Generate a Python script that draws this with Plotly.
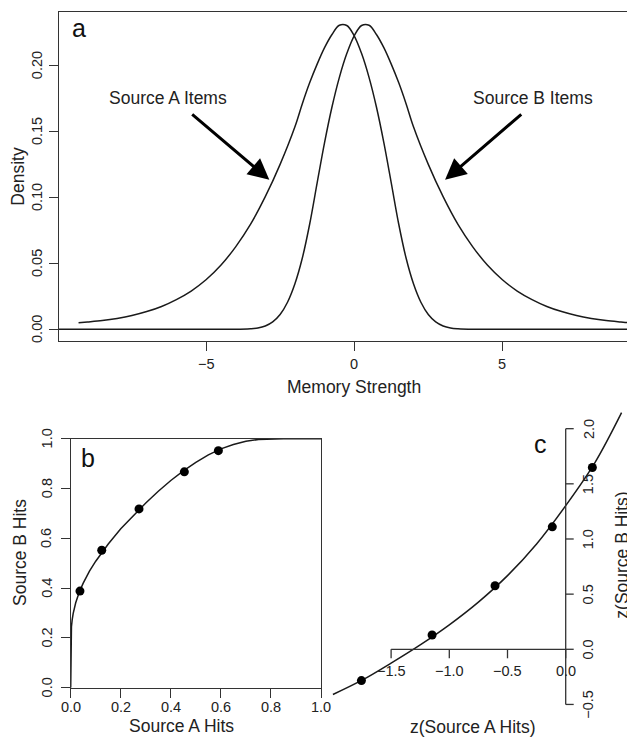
import plotly.graph_objects as go

# The page adds an 8 px body margin; lay the figure out in reference-pixel
# coordinates and compensate for that offset.
OFF = 8
W, H = 635 - OFF, 737 - OFF
FONT = "Liberation Sans, Arial, Helvetica, sans-serif"
INK = "#1a1a1a"
AXC = "#333333"

# ---------------- Panel a: densities ----------------
dens_x_A = [-9.3, -9.0, -8.5, -8.0, -7.5, -7.0, -6.5, -6.0, -5.5, -5.0, -4.5, -4.0, -3.5,
            -3.0, -2.5, -2.0, -1.75, -1.5, -1.25, -1.0, -0.75, -0.5, -0.25, 0.0, 0.25, 0.5,
            0.75, 1.0, 1.25, 1.5, 1.75, 2.0, 2.25, 2.5, 2.75, 3.0, 3.25, 3.5, 4.0, 5.0, 6.5,
            8.0, 9.26]
dens_A = [0.0049, 0.0055, 0.0066, 0.0082, 0.0104, 0.0134, 0.0173, 0.0225, 0.0290, 0.0375,
          0.0485, 0.0625, 0.0795, 0.1005, 0.1250, 0.1535, 0.1710, 0.1870, 0.2010, 0.2135,
          0.2235, 0.2305, 0.2303, 0.2225, 0.2090, 0.1910, 0.1685, 0.1415, 0.1110, 0.0800,
          0.0540, 0.0345, 0.0205, 0.0112, 0.0056, 0.0025, 0.0010, 0.0004, 0.0, 0.0, 0.0,
          0.0, 0.0]

dens_x_B = [-10.5, -8.0, -6.5, -5.0, -4.0, -3.5, -3.25, -3.0, -2.75, -2.5, -2.25, -2.0,
            -1.75, -1.5, -1.25, -1.0, -0.75, -0.5, -0.25, 0.0, 0.25, 0.5, 0.75, 1.0, 1.25,
            1.5, 1.75, 2.0, 2.5, 3.0, 3.5, 4.0, 4.5, 5.0, 5.5, 6.0, 6.5, 7.0, 7.5, 8.0, 8.5,
            9.0, 9.3, 9.8]
dens_B = [0.0, 0.0, 0.0, 0.0, 0.0, 0.0004, 0.0010, 0.0025, 0.0056, 0.0112, 0.0205, 0.0345,
          0.0540, 0.0800, 0.1110, 0.1415, 0.1685, 0.1910, 0.2090, 0.2225, 0.2303, 0.2305,
          0.2235, 0.2135, 0.2010, 0.1870, 0.1710, 0.1535, 0.1250, 0.1005, 0.0795, 0.0625,
          0.0485, 0.0375, 0.0290, 0.0225, 0.0173, 0.0134, 0.0104, 0.0082, 0.0066, 0.0055,
          0.0049, 0.0042]

a_xticks = [-5, 0, 5]
a_xticklabels = ["\u22125", "0", "5"]
a_yticks = [0.00, 0.05, 0.10, 0.15, 0.20]
a_yticklabels = ["0.00", "0.05", "0.10", "0.15", "0.20"]

# ---------------- Panel b: ROC ----------------
roc_curve_A = [0, 0.0001, 0.0005, 0.001, 0.003, 0.006, 0.01, 0.02, 0.035, 0.05, 0.075, 0.1,
               0.15, 0.2, 0.25, 0.3, 0.35, 0.4, 0.45, 0.5, 0.55, 0.6, 0.65, 0.7, 0.75, 0.8,
               0.85, 0.9, 1.0]
roc_curve_B = [0, 0.1625, 0.193, 0.2105, 0.245, 0.273, 0.2986, 0.341, 0.386, 0.420, 0.468,
               0.508, 0.577, 0.638, 0.692, 0.742, 0.789, 0.832, 0.871, 0.905, 0.935, 0.959,
               0.977, 0.990, 0.9966, 0.9993, 1.0, 1.0, 1.0]
roc_pts_A = [0.037, 0.124, 0.273, 0.454, 0.590]
roc_pts_B = [0.388, 0.552, 0.718, 0.867, 0.952]
b_ticks = [0.0, 0.2, 0.4, 0.6, 0.8, 1.0]
b_ticklabels = ["0.0", "0.2", "0.4", "0.6", "0.8", "1.0"]

# ---------------- Panel c: zROC ----------------
zroc_curve_A = [-2.0, -1.75, -1.5, -1.25, -1.0, -0.75, -0.5, -0.25, 0.0, 0.25, 0.48]
zroc_curve_B = [-0.41, -0.28, -0.125, 0.04, 0.222, 0.428, 0.668, 0.955, 1.302, 1.69, 2.145]
zroc_pts_A = [-1.755, -1.148, -0.607, -0.115, 0.229]
zroc_pts_B = [-0.284, 0.130, 0.576, 1.110, 1.648]
c_xticks = [-1.5, -1.0, -0.5, 0.0]
c_xticklabels = ["\u22121.5", "\u22121.0", "\u22120.5", "0.0"]
c_yticks = [-0.5, 0.0, 0.5, 1.0, 1.5, 2.0]
c_yticklabels = ["\u22120.5", "0.0", "0.5", "1.0", "1.5", "2.0"]


def px(x):
    """reference pixel x -> paper fraction"""
    return (x - OFF) / W


def py(y):
    """reference pixel y -> paper fraction"""
    return 1 - (y - OFF) / H


fig = go.Figure()
line_style = dict(color=INK, width=1.5)
fig.add_trace(go.Scatter(x=dens_x_A, y=dens_A, mode="lines", line=dict(shape="spline", smoothing=1.0, **line_style),
                         xaxis="x", yaxis="y", showlegend=False, hoverinfo="skip"))
fig.add_trace(go.Scatter(x=dens_x_B, y=dens_B, mode="lines", line=dict(shape="spline", smoothing=1.0, **line_style),
                         xaxis="x", yaxis="y", showlegend=False, hoverinfo="skip"))
fig.add_trace(go.Scatter(x=roc_curve_A, y=roc_curve_B, mode="lines", line=line_style,
                         xaxis="x2", yaxis="y2", showlegend=False, hoverinfo="skip"))
fig.add_trace(go.Scatter(x=roc_pts_A, y=roc_pts_B, mode="markers", marker=dict(color="black", size=9),
                         xaxis="x2", yaxis="y2", showlegend=False, hoverinfo="skip"))
fig.add_trace(go.Scatter(x=zroc_curve_A, y=zroc_curve_B, mode="lines", line=dict(shape="spline", **line_style),
                         xaxis="x3", yaxis="y3", showlegend=False, hoverinfo="skip", cliponaxis=False))
fig.add_trace(go.Scatter(x=zroc_pts_A, y=zroc_pts_B, mode="markers", marker=dict(color="black", size=9),
                         xaxis="x3", yaxis="y3", showlegend=False, hoverinfo="skip"))

tickfont = dict(family=FONT, size=14.5, color="#222")
common = dict(showgrid=False, zeroline=False, showline=True, linecolor=AXC, linewidth=1.3,
              ticks="outside", ticklen=9, tickwidth=1.3, tickcolor=AXC, showticklabels=False)

fig.update_layout(
    width=W, height=H, margin=dict(l=0, r=0, t=0, b=0),
    paper_bgcolor="white", plot_bgcolor="white",
    font=dict(family=FONT, color="#222"),
    xaxis=dict(domain=[px(58.7), 1.0], range=[-9.97, 9.474], anchor="y", mirror=True,
               tickvals=a_xticks, **common),
    yaxis=dict(domain=[py(341), py(12.3)], range=[-0.0089, 0.2403], anchor="x", mirror=False,
               tickvals=a_yticks, **common),
    xaxis2=dict(domain=[px(70.7), px(321)], range=[0, 1], anchor="y2", mirror=True,
                tickvals=b_ticks, **common),
    yaxis2=dict(domain=[py(687.7), py(438.7)], range=[0, 1], anchor="x2", mirror=True,
                tickvals=b_ticks, **common),
    xaxis3=dict(domain=[px(330), 1.0], range=[-2.025, 0.5954], anchor="y3", visible=False),
    yaxis3=dict(domain=[py(715), py(400)], range=[-0.5957, 2.260], anchor="x3", visible=False),
)

shapes = []
axline = dict(color=AXC, width=1.3)
# panel c x axis (at y = 0)
shapes.append(dict(type="line", xref="x3", yref="y3", x0=min(c_xticks), x1=max(c_xticks), y0=0, y1=0, line=axline))
for t in c_xticks:
    shapes.append(dict(type="line", xref="x3", yref="y3", x0=t, x1=t, ysizemode="pixel", yanchor=0,
                       y0=0, y1=-9, line=axline))
# panel c y axis (at x = 0)
shapes.append(dict(type="line", xref="x3", yref="y3", x0=0, x1=0, y0=min(c_yticks), y1=max(c_yticks), line=axline))
for t in c_yticks:
    shapes.append(dict(type="line", xref="x3", yref="y3", y0=t, y1=t, xsizemode="pixel", xanchor=0,
                       x0=0, x1=8, line=axline))
fig.update_layout(shapes=shapes)

ann = []
# tick labels: panel a
for t, lab in zip(a_xticks, a_xticklabels):
    ann.append(dict(x=t, y=py(364), xref="x", yref="paper", text=lab, showarrow=False,
                    xanchor="center", yanchor="middle", font=tickfont))
for t, lab in zip(a_yticks, a_yticklabels):
    ann.append(dict(x=px(37.7), y=t, xref="paper", yref="y", text=lab, showarrow=False,
                    xanchor="center", yanchor="middle", textangle=-90, font=tickfont))
# tick labels: panel b
for t, lab in zip(b_ticks, b_ticklabels):
    ann.append(dict(x=t, y=py(706.7), xref="x2", yref="paper", text=lab, showarrow=False,
                    xanchor="center", yanchor="middle", font=tickfont))
    ann.append(dict(x=px(46.7), y=t, xref="paper", yref="y2", text=lab, showarrow=False,
                    xanchor="center", yanchor="middle", textangle=-90, font=tickfont))
# tick labels: panel c
for t, lab in zip(c_xticks, c_xticklabels):
    ann.append(dict(x=t, y=0, xref="x3", yref="y3", text=lab, showarrow=False, xanchor="center",
                    yanchor="middle", yshift=-22, font=tickfont))
for t, lab in zip(c_yticks, c_yticklabels):
    ann.append(dict(x=0, y=t, xref="x3", yref="y3", text=lab, showarrow=False, xanchor="center",
                    yanchor="middle", xshift=22.6, textangle=-90, font=tickfont))

title_font = dict(family=FONT, size=17.5, color="#222")
titles = [
    ("Density", 18, 176.7, -90),
    ("Memory Strength", 354, 387, 0),
    ("Source B Hits", 20, 553, -90),
    ("Source A Hits", 181, 726, 0),
    ("z(Source A Hits)", 472, 727, 0),
    ("z(Source B Hits)", 621.7, 555, -90),
]
for text, x, y, ang in titles:
    ann.append(dict(x=px(x), y=py(y), xref="paper", yref="paper", text=text, showarrow=False,
                    xanchor="center", yanchor="middle", textangle=ang, font=title_font))

letter_font = dict(family=FONT, size=25, color="#111")
for text, x, y in [("a", 79.3, 27.5), ("b", 87.8, 458), ("c", 540, 444)]:
    ann.append(dict(x=px(x), y=py(y), xref="paper", yref="paper", text=text, showarrow=False,
                    xanchor="center", yanchor="middle", font=letter_font))

# arrow labels in panel a
ann.append(dict(x=-6.283, y=0.1755, xref="x", yref="y", text="Source A Items", showarrow=False,
                xanchor="center", yanchor="middle", font=title_font))
ann.append(dict(x=6.046, y=0.1753, xref="x", yref="y", text="Source B Items", showarrow=False,
                xanchor="center", yanchor="middle", font=title_font))
ann.append(dict(x=-2.864, y=0.1133, xref="x", yref="y", ax=-78.6, ay=-66.7, text="", showarrow=True,
                arrowhead=2, arrowsize=1.4, arrowwidth=3, arrowcolor="black", standoff=0))
ann.append(dict(x=3.066, y=0.1133, xref="x", yref="y", ax=77.7, ay=-66.7, text="", showarrow=True,
                arrowhead=2, arrowsize=1.4, arrowwidth=3, arrowcolor="black", standoff=0))
fig.update_layout(annotations=ann)

fig.write_html("out.html")
